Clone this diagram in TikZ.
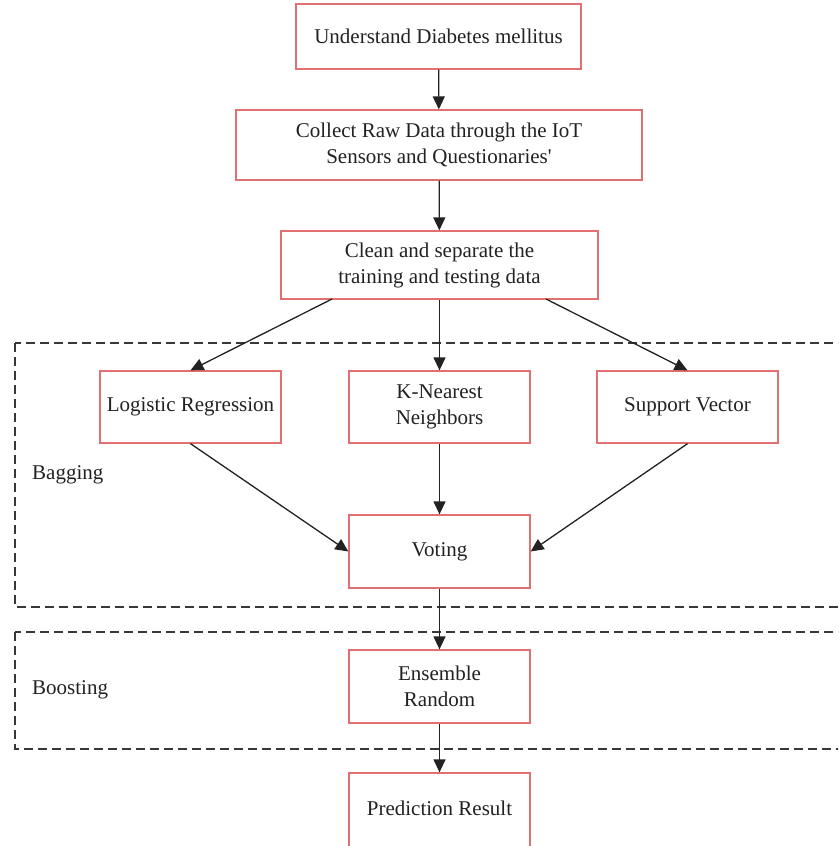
\documentclass[tikz,border=0pt]{standalone}
\usepackage{fontspec}
\setmainfont{Liberation Serif}
\usetikzlibrary{arrows.meta}
\definecolor{boxred}{RGB}{226,112,112}
\definecolor{linegray}{RGB}{34,34,34}
\begin{document}
\begin{tikzpicture}[x=1pt,y=-1pt,
  box/.style={draw=boxred, line width=1.3pt, fill=white, align=center, inner sep=0pt,
    font=\fontsize{21}{26}\selectfont, text=linegray},
  arr/.style={draw=linegray, line width=1.3pt, -{Triangle[length=13pt,width=12pt]}},
  grp/.style={draw=linegray!90, line width=1.1pt, dash pattern=on 9pt off 5pt},
  lbl/.style={font=\fontsize{21}{26}\selectfont, text=linegray, anchor=west, inner sep=0pt}]
\useasboundingbox (0,0) rectangle (838,846);
\begin{scope}
\clip (0,0) rectangle (838,846);
\draw[grp] (15,343) rectangle (860,607);
\draw[grp] (15,632) rectangle (860,749);
\node[box, minimum width=285pt, minimum height=65pt] (b1) at (438.5,36.5) {Understand Diabetes mellitus};
\node[box, minimum width=406pt, minimum height=70pt] (b2) at (439,145) {Collect Raw Data through the IoT\\Sensors and Questionaries\textquotesingle};
\node[box, minimum width=317pt, minimum height=68pt] (b3) at (439.5,265) {Clean and separate the\\training and testing data};
\node[box, minimum width=181pt, minimum height=72pt] (lr) at (190.5,407) {Logistic Regression};
\node[box, minimum width=181pt, minimum height=72pt] (knn) at (439.5,407) {K-Nearest\\Neighbors};
\node[box, minimum width=181pt, minimum height=72pt] (sv) at (687.5,407) {Support Vector};
\node[box, minimum width=181pt, minimum height=73pt] (vot) at (439.5,551.5) {Voting};
\node[box, minimum width=181pt, minimum height=73pt] (ens) at (439.5,686.5) {Ensemble\\Random};
\node[box, minimum width=181pt, minimum height=90pt] (pred) at (439.5,818) {};
\node[font=\fontsize{21}{26}\selectfont, text=linegray] at (439.5,808.5) {Prediction Result};
\node[lbl] (bag) at (32,475) {Bagging};
\node[lbl] (boo) at (32,690) {Boosting};
\coordinate (b3l) at (332,299);
\coordinate (b3r) at (546,299);
\draw[arr] (b1) -- (b2);
\draw[arr] (b2) -- (b3);
\draw[arr] (b3l) -- (lr.north);
\draw[arr] (b3) -- (knn);
\draw[arr] (b3r) -- (sv.north);
\draw[arr] (lr.south) -- (vot.west);
\draw[arr] (knn) -- (vot);
\draw[arr] (sv.south) -- (vot.east);
\draw[arr] (vot) -- (ens);
\draw[arr] (ens) -- (pred.north);
\end{scope}
\end{tikzpicture}
\end{document}
